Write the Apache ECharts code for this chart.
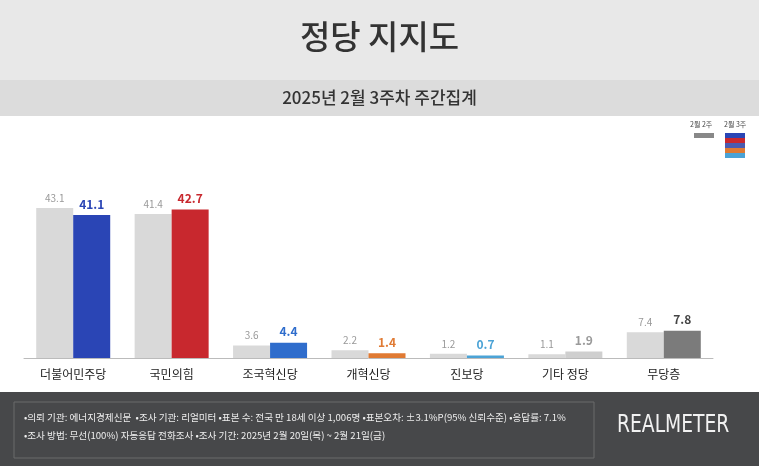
<!DOCTYPE html>
<html>
<head>
<meta charset="utf-8">
<script src="https://cdn.jsdelivr.net/npm/echarts@6/dist/echarts.min.js"></script>
<style>html,body{margin:0;padding:0;background:#fff}#c{width:759px;height:466px}</style>
</head>
<body>
<div id="c"></div>
<script>
var categories = ['더불어민주당', '국민의힘', '조국혁신당', '개혁신당', '진보당', '기타 정당', '무당층'];
var prevWeek = [43.1, 41.4, 3.6, 2.2, 1.2, 1.1, 7.4];
var thisWeek = [41.1, 42.7, 4.4, 1.4, 0.7, 1.9, 7.8];
var barColors = ['#2a45b5', '#c8282e', '#2f6dcc', '#e07a33', '#4ba3d6', '#cfcfcf', '#7b7b7b'];
var labelColors = ['#2a45b5', '#c8282e', '#2f6dcc', '#e07a33', '#4ba3d6', '#9a9a9a', '#444'];

var font = '"Noto Sans CJK KR", sans-serif';
var chart = echarts.init(document.getElementById('c'));

chart.setOption({
  animation: false,
  textStyle: { fontFamily: font },
  grid: { left: 24, right: 46, top: 184, bottom: 108 },
  xAxis: {
    type: 'category',
    data: categories,
    axisTick: { show: false },
    axisLine: { lineStyle: { color: '#bbb' } },
    axisLabel: { color: '#222', fontSize: 12, margin: 10 }
  },
  yAxis: { type: 'value', min: 0, max: 50, show: false, splitLine: { show: false } },
  series: [
    {
      type: 'bar', name: '2월 2주', data: prevWeek, barWidth: 37, barGap: '0%',
      itemStyle: { color: '#d9d9d9' },
      label: { show: true, position: 'top', color: '#999', fontSize: 10 }
    },
    {
      type: 'bar', name: '2월 3주', barWidth: 37,
      data: thisWeek.map(function (v, i) {
        return { value: v, itemStyle: { color: barColors[i] }, label: { color: labelColors[i] } };
      }),
      label: { show: true, position: 'top', fontSize: 12, fontWeight: 'bold' }
    }
  ],
  graphic: [
    { type: 'rect', shape: { x: 0, y: 0, width: 759, height: 80 }, style: { fill: '#e8e8e8' } },
    { type: 'text', left: 'center', top: 20, style: { text: '정당 지지도', fontSize: 33, fontWeight: 500, fill: '#333', fontFamily: font } },
    { type: 'rect', shape: { x: 0, y: 80, width: 759, height: 36 }, style: { fill: '#dcdcdc' } },
    { type: 'text', left: 'center', top: 89, style: { text: '2025년 2월 3주차 주간집계', fontSize: 17, fontWeight: 500, fill: '#333', fontFamily: font } },
    { type: 'text', left: 690, top: 121, style: { text: '2월 2주', fontSize: 7, fill: '#444', fontFamily: font } },
    { type: 'rect', shape: { x: 694, y: 133, width: 20, height: 5 }, style: { fill: '#888' } },
    { type: 'text', left: 724, top: 121, style: { text: '2월 3주', fontSize: 7, fill: '#444', fontFamily: font } },
    { type: 'rect', shape: { x: 725, y: 133, width: 20, height: 5 }, style: { fill: '#2a45b5' } },
    { type: 'rect', shape: { x: 725, y: 138, width: 20, height: 5 }, style: { fill: '#c8282e' } },
    { type: 'rect', shape: { x: 725, y: 143, width: 20, height: 5 }, style: { fill: '#4a5bb0' } },
    { type: 'rect', shape: { x: 725, y: 148, width: 20, height: 5 }, style: { fill: '#e07a33' } },
    { type: 'rect', shape: { x: 725, y: 153, width: 20, height: 5 }, style: { fill: '#4ba3d6' } },
    { type: 'rect', shape: { x: 0, y: 392, width: 759, height: 74 }, style: { fill: '#47484a' } },
    { type: 'rect', shape: { x: 14, y: 402, width: 580, height: 56 }, style: { fill: 'none', stroke: '#6a6a6a', lineWidth: 1 } },
    { type: 'text', left: 24, top: 413, style: { text: '•의뢰 기관: 에너지경제신문  •조사 기관: 리얼미터 •표본 수: 전국 만 18세 이상 1,006명 •표본오차: ±3.1%P(95% 신뢰수준) •응답률: 7.1%', fontSize: 9.6, fill: '#eee', fontFamily: font } },
    { type: 'text', left: 24, top: 431, style: { text: '•조사 방법: 무선(100%) 자동응답 전화조사 •조사 기간: 2025년 2월 20일(목) ~ 2월 21일(금)', fontSize: 9.6, fill: '#eee', fontFamily: font } },
    { type: 'text', left: 617, top: 414, style: { text: 'REALMETER', fontSize: 24, fill: '#f2f2f2', fontFamily: '"DejaVu Sans", sans-serif', fontWeight: 'normal', transform: null } , scaleX: 0.78, originX: 617 }
  ]
});
</script>
</body>
</html>
